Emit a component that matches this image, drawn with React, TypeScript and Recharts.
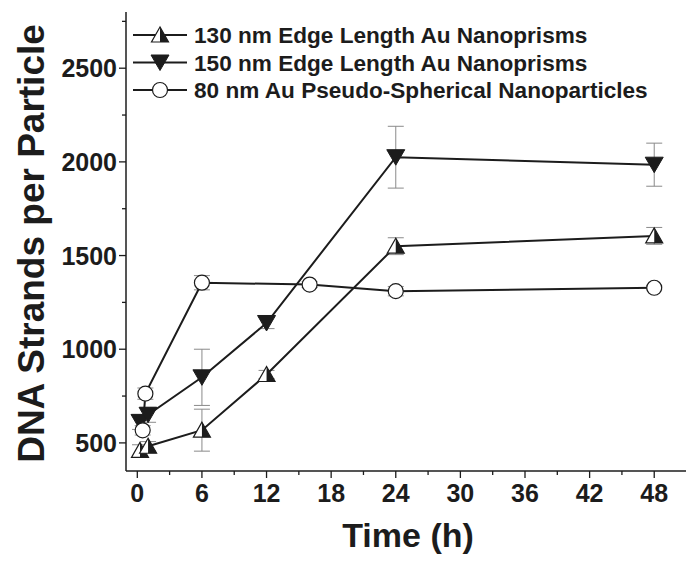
import React from 'react';
import { LineChart, Line, XAxis, YAxis, ErrorBar, Legend } from 'recharts';

// Time points (h), strand counts and error (±) per particle type
const HOURS_130 = [0.25, 1, 6, 12, 24, 48];
const STRANDS_130 = [460, 482, 568, 865, 1550, 1605];
const ERR_130 = [30, 25, 112, 22, 45, 45];

const HOURS_150 = [0.25, 1, 6, 12, 24, 48];
const STRANDS_150 = [612, 650, 850, 1140, 2025, 1985];
const ERR_150 = [40, 40, 150, 30, 165, 115];

const HOURS_80 = [0.5, 0.75, 6, 16, 24, 48];
const STRANDS_80 = [567, 763, 1355, 1345, 1310, 1328];
const ERR_80 = [25, 30, 38, 15, 25, 10];

const SERIES_NAMES = [
  '130 nm Edge Length Au Nanoprisms',
  '150 nm Edge Length Au Nanoprisms',
  '80 nm Au Pseudo-Spherical Nanoparticles',
];

const X_TICKS = [0, 3, 6, 9, 12, 15, 18, 21, 24, 27, 30, 33, 36, 39, 42, 45, 48];
const Y_TICKS = [500, 750, 1000, 1250, 1500, 1750, 2000, 2250, 2500, 2750];
const X_DOMAIN: [number, number] = [-1.05, 50.95];
const Y_DOMAIN: [number, number] = [350, 2800];

const INK = '#1c1c1c';
const FONT = '"Liberation Sans", Arial, Helvetica, sans-serif';

const toRows = (hours: number[], vals: number[], errs: number[]) =>
  hours.map((t, i) => ({ t, v: vals[i], err: errs[i] }));

const data130 = toRows(HOURS_130, STRANDS_130, ERR_130);
const data150 = toRows(HOURS_150, STRANDS_150, ERR_150);
const data80 = toRows(HOURS_80, STRANDS_80, ERR_80);

// Marker shapes
const HalfUp = ({ cx, cy }: { cx: number; cy: number }) => (
  <g>
    <polygon
      points={`${cx},${cy - 8} ${cx - 8.5},${cy + 7} ${cx + 8.5},${cy + 7}`}
      fill="#fff"
      stroke={INK}
      strokeWidth={1.2}
    />
    <polygon points={`${cx},${cy - 8} ${cx + 8.5},${cy + 7} ${cx},${cy + 7}`} fill={INK} />
  </g>
);

const FullDown = ({ cx, cy }: { cx: number; cy: number }) => (
  <polygon
    points={`${cx - 9},${cy - 7.5} ${cx + 9},${cy - 7.5} ${cx},${cy + 8}`}
    fill={INK}
    stroke={INK}
    strokeWidth={1}
  />
);

const OpenCircle = ({ cx, cy }: { cx: number; cy: number }) => (
  <circle cx={cx} cy={cy} r={7.5} fill="#fff" stroke={INK} strokeWidth={1.2} />
);

const MARKERS = [HalfUp, FullDown, OpenCircle];

const dotOf = (Marker: any, tag: string) => (props: any) => {
  if (props.cx == null || props.cy == null) return <g key={`${tag}-${props.index}`} />;
  return <Marker key={`${tag}-${props.index}`} cx={props.cx} cy={props.cy} />;
};

// Axis ticks: long ticks with labels, short minor ticks
const YTick = (props: any) => {
  const { x, y, payload } = props;
  const major = payload.value % 500 === 0;
  return (
    <g>
      <line x1={x - (major ? 7 : 4)} x2={x} y1={y} y2={y} stroke={INK} strokeWidth={1.3} />
      {major && (
        <text x={x - 9} y={y + 9} textAnchor="end" fill={INK} fontSize={25} fontWeight="bold" fontFamily={FONT}>
          {payload.value}
        </text>
      )}
    </g>
  );
};

const XTick = (props: any) => {
  const { x, y, payload } = props;
  const major = payload.value % 6 === 0;
  return (
    <g>
      <line x1={x} x2={x} y1={y} y2={y + (major ? 7 : 4)} stroke={INK} strokeWidth={1.3} />
      {major && (
        <text x={x} y={y + 31} textAnchor="middle" fill={INK} fontSize={25} fontWeight="bold" fontFamily={FONT}>
          {payload.value}
        </text>
      )}
    </g>
  );
};

const YTitle = (props: any) => {
  const vb = props.viewBox || { x: 0, y: 0, width: 0, height: 0 };
  const cx = 23;
  const cy = vb.y + vb.height / 2 + 2;
  return (
    <text
      x={cx}
      y={cy}
      transform={`rotate(-90 ${cx} ${cy})`}
      textAnchor="middle"
      dominantBaseline="central"
      fill={INK}
      fontSize={37}
      fontWeight="bold"
      fontFamily={FONT}
    >
      DNA Strands per Particle
    </text>
  );
};

const XTitle = (props: any) => {
  const vb = props.viewBox || { x: 0, y: 0, width: 0, height: 0 };
  return (
    <text
      x={vb.x + vb.width / 2 + 2}
      y={vb.y + 76}
      textAnchor="middle"
      fill={INK}
      fontSize={34}
      fontWeight="bold"
      fontFamily={FONT}
    >
      Time (h)
    </text>
  );
};

const LegendBox = () => (
  <svg width={670} height={100} style={{ display: 'block' }}>
    {SERIES_NAMES.map((name, i) => {
      const y = 27 + i * 27.5;
      const Marker = MARKERS[i];
      return (
        <g key={name}>
          <line x1={125} x2={179} y1={y} y2={y} stroke={INK} strokeWidth={2} />
          <Marker cx={152} cy={y} />
          <text x={186} y={y + 8} fill={INK} fontSize={22.6} fontWeight="bold" fontFamily={FONT}>
            {name}
          </text>
        </g>
      );
    })}
  </svg>
);

export default function App() {
  return (
    <LineChart width={684} height={550} margin={{ top: 4, right: 6, left: 0, bottom: 0 }}>
      <XAxis
        dataKey="t"
        type="number"
        domain={X_DOMAIN}
        ticks={X_TICKS}
        interval={0}
        allowDataOverflow
        height={87}
        stroke={INK}
        strokeWidth={1.5}
        tickSize={0}
        tickMargin={0}
        tickLine={false}
        tick={<XTick />}
        label={<XTitle />}
      />
      <XAxis
        xAxisId="top"
        orientation="top"
        type="number"
        domain={X_DOMAIN}
        allowDataOverflow
        height={0}
        tick={false}
        tickLine={false}
        stroke={INK}
        strokeWidth={1.5}
      />
      <YAxis
        type="number"
        domain={Y_DOMAIN}
        ticks={Y_TICKS}
        interval={0}
        allowDataOverflow
        width={118}
        stroke={INK}
        strokeWidth={1.5}
        tickSize={0}
        tickMargin={0}
        tickLine={false}
        tick={<YTick />}
        label={<YTitle />}
      />
      <YAxis
        yAxisId="right"
        orientation="right"
        type="number"
        domain={Y_DOMAIN}
        allowDataOverflow
        width={0}
        tick={false}
        tickLine={false}
        stroke={INK}
        strokeWidth={1.5}
      />
      <Legend
        layout="horizontal"
        verticalAlign="middle"
        align="center"
        wrapperStyle={{ left: 0, top: 0, width: 670, height: 100 }}
        content={<LegendBox />}
      />
      <Line
        data={data130}
        dataKey="v"
        name={SERIES_NAMES[0]}
        stroke={INK}
        strokeWidth={2}
        dot={dotOf(HalfUp, 'a')}
        activeDot={false}
        isAnimationActive={false}
      >
        <ErrorBar dataKey="err" direction="y" width={8} stroke="#8a8a8a" strokeWidth={1} />
      </Line>
      <Line
        data={data150}
        dataKey="v"
        name={SERIES_NAMES[1]}
        stroke={INK}
        strokeWidth={2}
        dot={dotOf(FullDown, 'b')}
        activeDot={false}
        isAnimationActive={false}
      >
        <ErrorBar dataKey="err" direction="y" width={8} stroke="#8a8a8a" strokeWidth={1} />
      </Line>
      <Line
        data={data80}
        dataKey="v"
        name={SERIES_NAMES[2]}
        stroke={INK}
        strokeWidth={2}
        dot={dotOf(OpenCircle, 'c')}
        activeDot={false}
        isAnimationActive={false}
      >
        <ErrorBar dataKey="err" direction="y" width={8} stroke="#8a8a8a" strokeWidth={1} />
      </Line>
    </LineChart>
  );
}
